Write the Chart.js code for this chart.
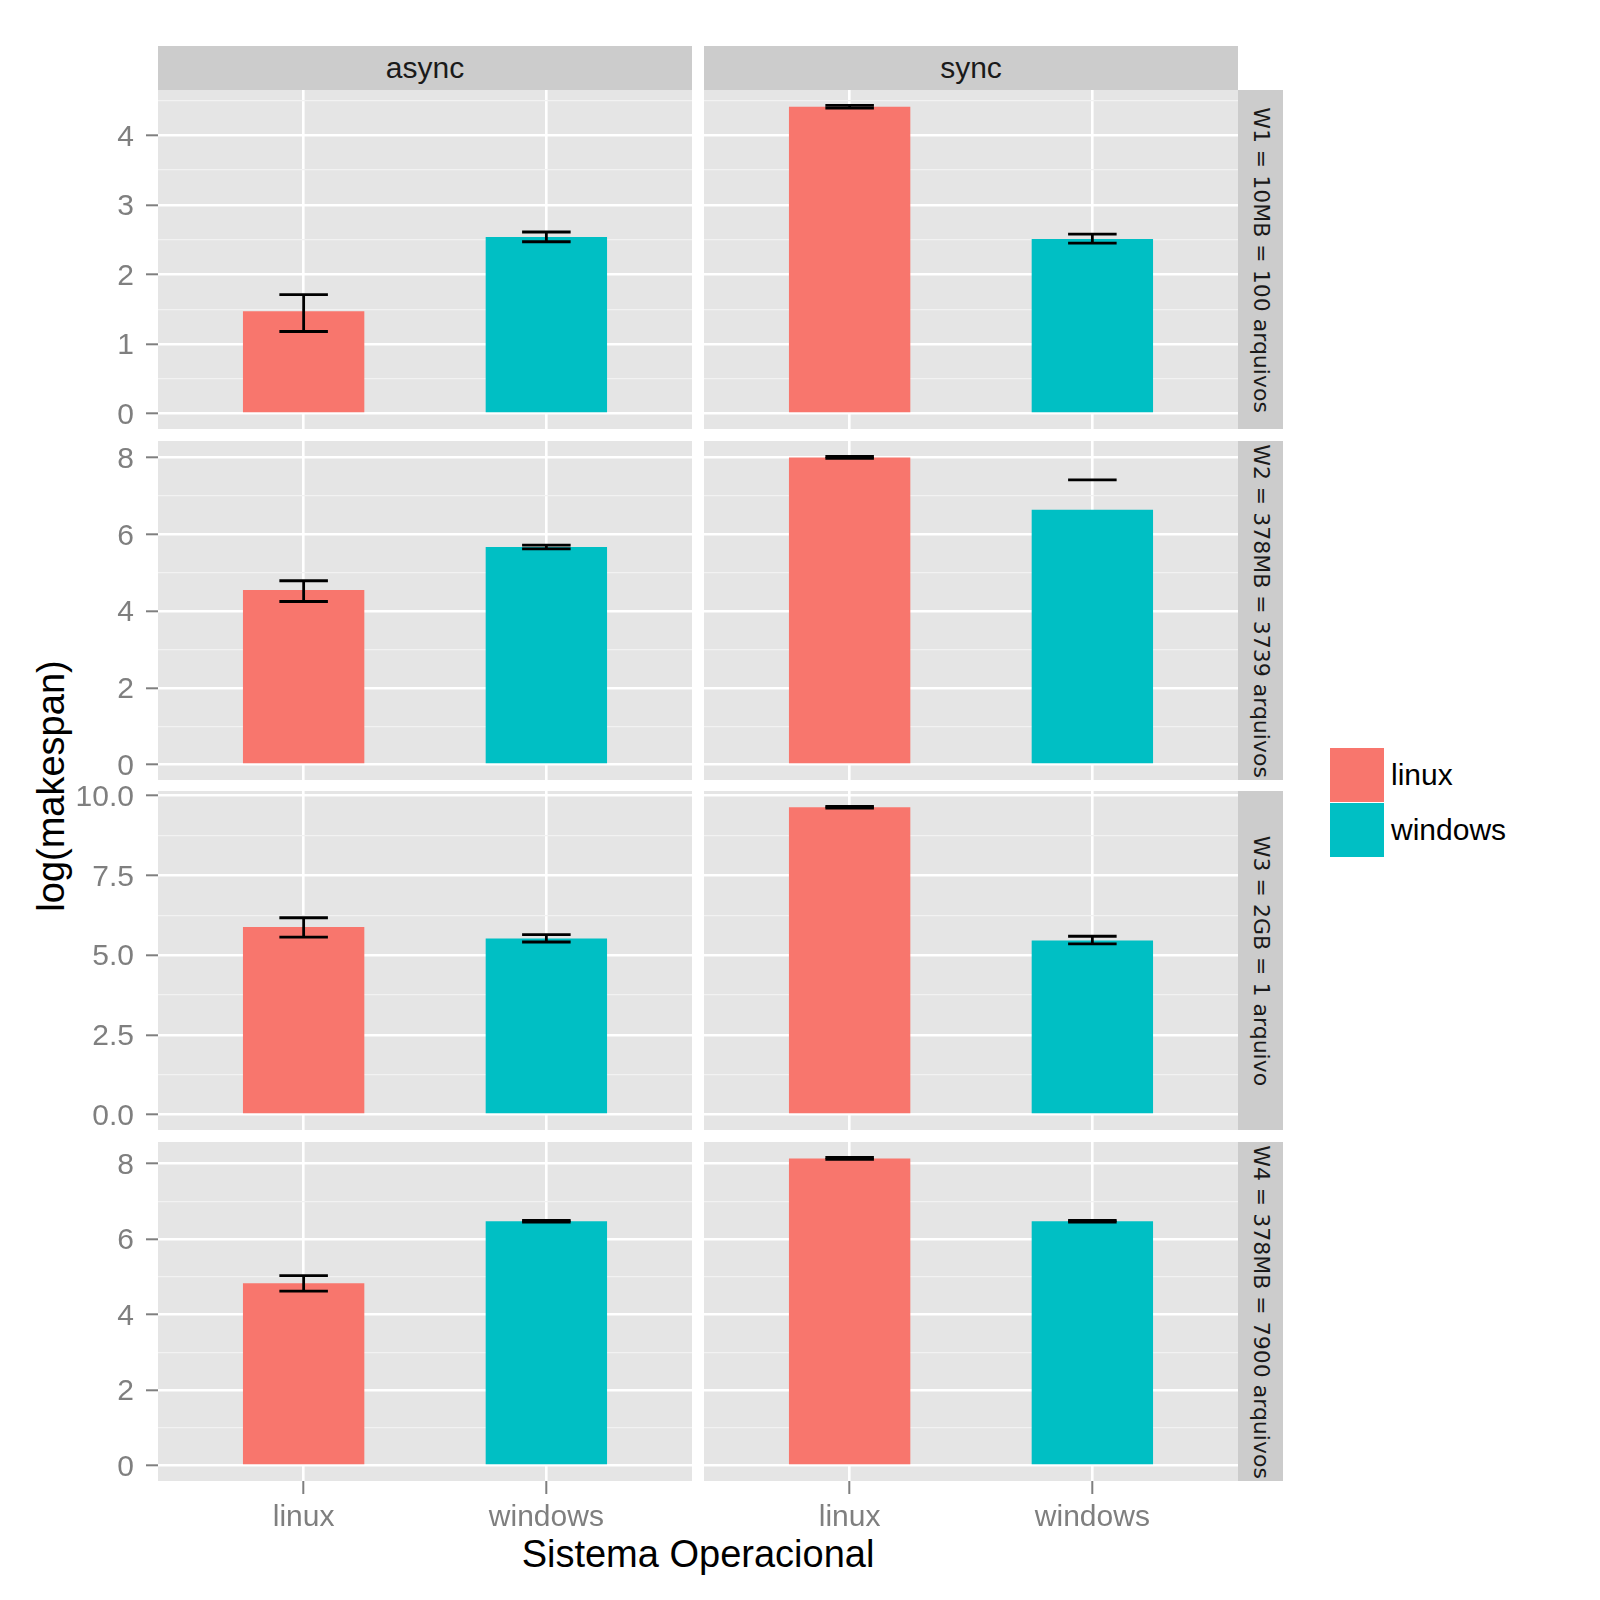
<!DOCTYPE html>
<html><head><meta charset="utf-8">
<script src="https://cdn.jsdelivr.net/npm/chart.js@4.4.1/dist/chart.umd.min.js"></script>
<style>
html,body{margin:0;padding:0;background:#fff;}
#wrap{position:relative;width:1600px;height:1600px;background:#fff;overflow:hidden;font-family:'Liberation Sans',Arial,sans-serif;}
canvas{position:absolute;}
.strip{position:absolute;background:#CCCCCC;color:#1A1A1A;display:flex;align-items:center;justify-content:center;font-size:30px;}
.rstrip{position:absolute;background:#CCCCCC;}
.rstrip span{position:absolute;left:50%;top:50%;transform:translate(-50%,-50%) rotate(90deg);white-space:nowrap;font-family:'DejaVu Sans',sans-serif;font-size:22px;color:#1A1A1A;}
.key{position:absolute;width:54px;height:54px;}
.ltxt{position:absolute;font-size:30px;color:#000;line-height:54px;height:54px;}
#ytitle{position:absolute;left:51px;top:786px;transform:translate(-50%,-50%) rotate(-90deg);font-size:38px;white-space:nowrap;color:#000;}
#xtitle{position:absolute;left:698px;top:1535px;transform:translateX(-50%);font-size:38px;line-height:38px;white-space:nowrap;color:#000;}
</style></head>
<body><div id="wrap"></div>
<script>
// ---- data ----
const systems = ['linux', 'windows'];
const modes = ['async', 'sync'];
const workloads = ['W1 = 10MB = 100 arquivos', 'W2 = 378MB = 3739 arquivos', 'W3 = 2GB = 1 arquivo', 'W4 = 378MB = 7900 arquivos'];

const asyncLinux      = [1.47, 4.55, 5.88, 4.83];
const asyncLinuxLow   = [1.18, 4.25, 5.56, 4.62];
const asyncLinuxHigh  = [1.71, 4.79, 6.17, 5.03];

const asyncWindows     = [2.54, 5.67, 5.52, 6.47];
const asyncWindowsLow  = [2.47, 5.62, 5.41, 6.45];
const asyncWindowsHigh = [2.61, 5.72, 5.64, 6.49];

const syncLinux      = [4.41, 8.00, 9.63, 8.13];
const syncLinuxLow   = [4.39, 7.98, 9.61, 8.11];
const syncLinuxHigh  = [4.43, 8.03, 9.66, 8.16];

const syncWindows     = [2.51, 6.64, 5.46, 6.47];
const syncWindowsLow  = [2.45, null, 5.35, 6.45];
const syncWindowsHigh = [2.58, 7.42, 5.59, 6.49];

const yTickLabels = [
  ['0', '1', '2', '3', '4'],
  ['0', '2', '4', '6', '8'],
  ['0.0', '2.5', '5.0', '7.5', '10.0'],
  ['0', '2', '4', '6', '8']
];
const legendLabels = ['linux', 'windows'];
const barColors = ['#F8766D', '#00BFC4'];

// ---- layout ----
const wrap = document.getElementById('wrap');
const colX = [158, 704];
const PW = 534, PH = 339;
const rowY = [90, 441, 791, 1142];
const M = 40;
const AXW = 158;
const XAXH = 60;
const FONT = 'Liberation Sans';

function el(tag, cls, css, text) {
  const e = document.createElement(tag);
  if (cls) e.className = cls;
  Object.assign(e.style, css || {});
  if (text !== undefined) e.textContent = text;
  wrap.appendChild(e);
  return e;
}

// strips
modes.forEach((m, c) => el('div', 'strip', {left: colX[c] + 'px', top: '46px', width: PW + 'px', height: '44px'}, m));
workloads.forEach((w, r) => {
  const s = el('div', 'rstrip', {left: (colX[1] + PW) + 'px', top: rowY[r] + 'px', width: '45px', height: PH + 'px'});
  const sp = document.createElement('span'); sp.textContent = w; s.appendChild(sp);
});

// legend
legendLabels.forEach((l, i) => {
  el('div', 'key', {left: '1330px', top: (748 + i * 55) + 'px', background: barColors[i]});
  el('div', 'ltxt', {left: '1391px', top: (748 + i * 55) + 'px'}, l);
});
const yt = el('div', null, {}, 'log(makespan)'); yt.id = 'ytitle';
const xt = el('div', null, {}, 'Sistema Operacional'); xt.id = 'xtitle';

const bgPlugin = {
  id: 'panelBg',
  beforeDraw(chart) {
    const a = chart.chartArea, ctx = chart.ctx;
    ctx.save(); ctx.fillStyle = '#E5E5E5';
    ctx.fillRect(a.left, a.top, a.right - a.left, a.bottom - a.top);
    ctx.restore();
  }
};

function makeErrPlugin(lows, highs) {
  return {
    id: 'errbars',
    afterDatasetsDraw(chart) {
      const xs = chart.scales.x, ys = chart.scales.y, ctx = chart.ctx;
      ctx.save();
      ctx.strokeStyle = '#000'; ctx.lineWidth = 2.8; ctx.lineCap = 'butt';
      for (let i = 0; i < highs.length; i++) {
        const xc = xs.getPixelForValue(i + 1);
        const hw = xs.getPixelForValue(1.1) - xs.getPixelForValue(1);
        const yh = ys.getPixelForValue(highs[i]);
        ctx.beginPath(); ctx.moveTo(xc - hw, yh); ctx.lineTo(xc + hw, yh); ctx.stroke();
        if (lows[i] !== null) {
          const yl = ys.getPixelForValue(lows[i]);
          ctx.beginPath(); ctx.moveTo(xc - hw, yl); ctx.lineTo(xc + hw, yl); ctx.stroke();
          ctx.beginPath(); ctx.moveTo(xc, yh); ctx.lineTo(xc, yl); ctx.stroke();
        }
      }
      ctx.restore();
    }
  };
}

for (let r = 0; r < 4; r++) {
  const rowHighs = [asyncLinuxHigh[r], asyncWindowsHigh[r], syncLinuxHigh[r], syncWindowsHigh[r],
                    asyncLinux[r], asyncWindows[r], syncLinux[r], syncWindows[r]];
  const top = Math.max(...rowHighs);
  const pad = top * 0.05;
  const yMin = -pad, yMax = top + pad;
  const majors = yTickLabels[r].map(parseFloat);
  const step = majors[1] - majors[0];
  const tickObjs = majors.map((v, i) => ({value: v, text: yTickLabels[r][i], minor: false}));
  majors.forEach(v => { const mv = v + step / 2; if (mv <= yMax) tickObjs.push({value: mv, text: '', minor: true}); });
  tickObjs.sort((a, b) => a.value - b.value);
  const isBottom = r === 3;

  for (let c = 0; c < 2; c++) {
    const vals = c === 0 ? [asyncLinux[r], asyncWindows[r]] : [syncLinux[r], syncWindows[r]];
    const lows = c === 0 ? [asyncLinuxLow[r], asyncWindowsLow[r]] : [syncLinuxLow[r], syncWindowsLow[r]];
    const highs = c === 0 ? [asyncLinuxHigh[r], asyncWindowsHigh[r]] : [syncLinuxHigh[r], syncWindowsHigh[r]];
    const left = c === 0 ? 0 : colX[1];
    const width = c === 0 ? AXW + PW : PW;
    const height = M + PH + (isBottom ? XAXH : M);
    const cv = document.createElement('canvas');
    cv.width = width; cv.height = height;
    cv.style.left = left + 'px'; cv.style.top = (rowY[r] - M) + 'px';
    cv.style.width = width + 'px'; cv.style.height = height + 'px';
    wrap.appendChild(cv);

    const ticksCopy = tickObjs.map(t => Object.assign({}, t));
    new Chart(cv.getContext('2d'), {
      type: 'bar',
      data: {
        datasets: [{
          data: vals.map((v, i) => ({x: i + 1, y: v})),
          backgroundColor: barColors,
          borderWidth: 0,
          barPercentage: 0.5,
          categoryPercentage: 1
        }]
      },
      options: {
        responsive: false, animation: false, devicePixelRatio: 1,
        layout: {padding: {top: M, bottom: isBottom ? 0 : M, left: 0, right: 0}},
        plugins: {legend: {display: false}, tooltip: {enabled: false}},
        scales: {
          x: {
            type: 'linear', min: 0.4, max: 2.6, offset: false,
            afterBuildTicks: s => { s.ticks = [{value: 1}, {value: 2}]; },
            afterFit: s => { s.height = isBottom ? XAXH : 0; },
            ticks: {display: isBottom, autoSkip: false, maxRotation: 0, padding: 6,
                    color: '#7F7F7F', font: {family: FONT, size: 30},
                    callback: v => systems[Math.round(v) - 1]},
            grid: {offset: false, color: '#FFFFFF', lineWidth: 2.6, drawTicks: isBottom,
                   tickLength: 13, tickColor: '#7F7F7F', tickWidth: 2},
            border: {display: false}
          },
          y: {
            type: 'linear', min: yMin, max: yMax, beginAtZero: false,
            afterBuildTicks: s => { s.ticks = ticksCopy.map(t => Object.assign({}, t)); },
            afterFit: s => { s.width = c === 0 ? AXW : 0; },
            ticks: {display: c === 0, autoSkip: false, padding: 12, labelOffset: 2,
                    color: '#7F7F7F', font: {family: FONT, size: 30},
                    callback: (v, i, t) => t[i].text},
            grid: {
              color: ctx => (ctx.tick && ctx.tick.minor) ? '#F2F2F2' : '#FFFFFF',
              lineWidth: ctx => (ctx.tick && ctx.tick.minor) ? 1.3 : 2.6,
              drawTicks: c === 0, tickLength: 12,
              tickColor: ctx => (ctx.tick && ctx.tick.minor) ? 'rgba(0,0,0,0)' : '#7F7F7F',
              tickWidth: 2
            },
            border: {display: false}
          }
        }
      },
      plugins: [bgPlugin, makeErrPlugin(lows, highs)]
    });
  }
}
</script>
</body></html>
